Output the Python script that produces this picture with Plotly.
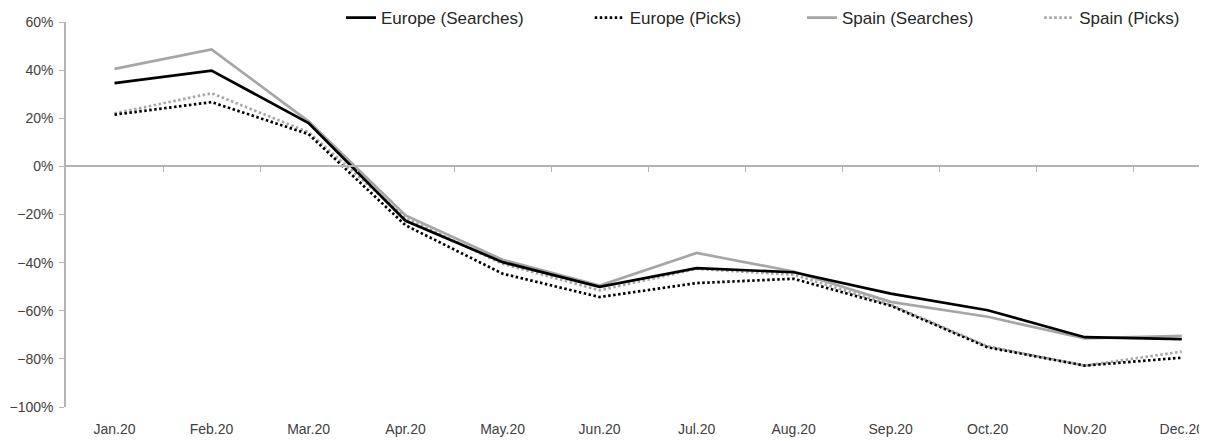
import plotly.graph_objects as go

months = ["Jan.20", "Feb.20", "Mar.20", "Apr.20", "May.20", "Jun.20",
          "Jul.20", "Aug.20", "Sep.20", "Oct.20", "Nov.20", "Dec.20"]
europe_searches = [34.6, 39.8, 18.0, -22.6, -39.8, -50.1, -42.3, -44.0, -52.9, -59.8, -71.0, -71.8]
europe_picks    = [21.5, 26.7, 13.4, -24.5, -44.6, -54.3, -48.5, -46.7, -57.9, -75.2, -82.8, -79.5]
spain_searches  = [40.5, 48.6, 18.7, -20.4, -38.8, -49.5, -36.0, -43.7, -56.3, -62.5, -71.5, -70.4]
spain_picks     = [22.0, 30.4, 14.2, -21.5, -40.5, -51.5, -42.6, -45.0, -57.5, -74.8, -82.8, -77.0]
y_ticks = [-100, -80, -60, -40, -20, 0, 20, 40, 60]

xs = list(range(len(months)))
BLACK = "#000000"
GREY = "#a6a6a6"
AXIS = "#b4b4b4"
FONT = "Liberation Sans, Arial, sans-serif"

# (name, values, colour, dash, legend, x axis)
series = [
    ("Spain (Searches)", spain_searches, GREY, "solid", "legend3", "x"),
    ("Spain (Picks)", spain_picks, GREY, "2.5px,2.5px", "legend4", "x"),
    ("Europe (Searches)", europe_searches, BLACK, "solid", "legend", "x2"),
    ("Europe (Picks)", europe_picks, BLACK, "2.5px,2.5px", "legend2", "x2"),
]

fig = go.Figure()
for name, vals, col, dash, lg, xa in series:
    fig.add_trace(go.Scatter(
        x=xs, y=[v / 100 for v in vals], name=name, mode="lines",
        line=dict(color=col, width=2.7, dash=dash),
        legend=lg, xaxis=xa, yaxis="y",
    ))

xr = [-0.5, 11.26]
leg_x = [0.241, 0.459, 0.645, 0.853]
leg_common = dict(orientation="h", yanchor="middle", y=1.01, xanchor="left",
                  font=dict(family=FONT, size=17, color="#262626"),
                  bgcolor="rgba(0,0,0,0)", borderwidth=0)

# page body adds an 8px offset, so the figure is 8px smaller and margins shifted
fig.update_layout(
    width=1199, height=433,
    margin=dict(l=58, r=0, t=14, b=34, autoexpand=False),
    paper_bgcolor="white", plot_bgcolor="white",
    showlegend=True,
    legend=dict(x=leg_x[0], **leg_common),
    legend2=dict(x=leg_x[1], **leg_common),
    legend3=dict(x=leg_x[2], **leg_common),
    legend4=dict(x=leg_x[3], **leg_common),
    # bottom axis carrying the month labels
    xaxis=dict(
        range=xr, tickmode="array", tickvals=xs, ticktext=months,
        showline=False, showgrid=False, zeroline=False, ticks="",
        ticklabelstandoff=12, automargin=False,
        tickfont=dict(family=FONT, size=14, color="#404040"),
    ),
    # horizontal axis line at 0% with tick marks between categories
    xaxis2=dict(
        range=xr, overlaying="x", anchor="free", position=0.625, side="bottom",
        showline=True, linecolor=AXIS, linewidth=1.5,
        ticks="outside", ticklen=5, tickwidth=1.2, tickcolor=AXIS,
        tickmode="array", tickvals=[i + 0.5 for i in xs[:-1]],
        showticklabels=False, showgrid=False, zeroline=False, automargin=False,
    ),
    yaxis=dict(
        range=[-1.0, 0.6], tickmode="array", tickvals=[t / 100 for t in y_ticks],
        tickformat=".0%", showline=True, linecolor=AXIS, linewidth=1.5,
        ticks="outside", ticklen=5, tickwidth=1.2, tickcolor=AXIS,
        ticklabelstandoff=3,
        showgrid=False, zeroline=False, automargin=False,
        tickfont=dict(family=FONT, size=14, color="#404040"),
    ),
)

fig.write_html("out.html")
